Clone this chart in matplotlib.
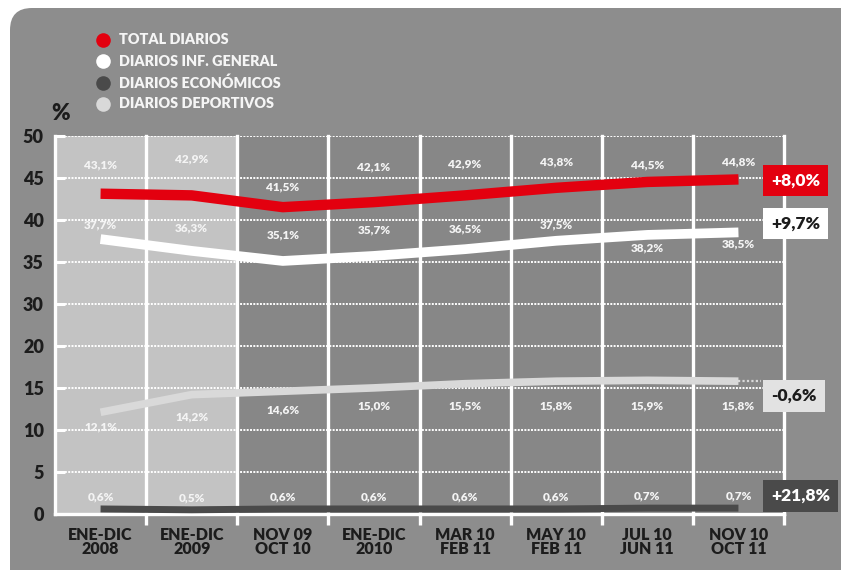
import numpy as np
import matplotlib
matplotlib.use('Agg')
import matplotlib.pyplot as plt
from matplotlib.patches import FancyBboxPatch
from matplotlib.lines import Line2D

plt.rcParams['font.family'] = ['Lato', 'DejaVu Sans']

periods = ["ENE-DIC\n2008", "ENE-DIC\n2009", "NOV 09\nOCT 10", "ENE-DIC\n2010",
           "MAR 10\nFEB 11", "MAY 10\nFEB 11", "JUL 10\nJUN 11", "NOV 10\nOCT 11"]

total_diarios = [43.1, 42.9, 41.5, 42.1, 42.9, 43.8, 44.5, 44.8]
inf_general = [37.7, 36.3, 35.1, 35.7, 36.5, 37.5, 38.2, 38.5]
economicos = [0.6, 0.5, 0.6, 0.6, 0.6, 0.6, 0.7, 0.7]
deportivos = [12.1, 14.2, 14.6, 15.0, 15.5, 15.8, 15.9, 15.8]

variacion = ["+8,0%", "+9,7%", "+21,8%", "-0,6%"]
series_names = ["TOTAL DIARIOS", "DIARIOS INF. GENERAL", "DIARIOS ECONÓMICOS", "DIARIOS DEPORTIVOS"]

y_ticks = [0, 5, 10, 15, 20, 30, 35, 40, 45, 50]

RED = '#e3000f'
WHITE = '#ffffff'
DARK = '#4a4a4a'
LIGHT = '#d9d9d9'
TXT = '#1c1c1c'


# broken axis: 20-30 squeezed into one step, everything above shifted down
def fwd(v):
    v = np.asarray(v, dtype=float)
    return np.where(v <= 20, v, np.where(v <= 30, 20 + (v - 20) / 2, v - 5))


def inv(u):
    u = np.asarray(u, dtype=float)
    return np.where(u <= 20, u, np.where(u <= 25, 20 + (u - 20) * 2, u + 5))


def fmt(v):
    return f"{v:.1f}".replace('.', ',') + '%'


fig = plt.figure(figsize=(8.41, 5.70), dpi=100, facecolor='white')

# rounded grey panel behind everything
panel = FancyBboxPatch((0.10, -0.4), 8.7, 6.02, boxstyle='round,pad=0,rounding_size=0.22',
                       transform=fig.dpi_scale_trans, facecolor='#8d8d8d', edgecolor='none', zorder=-5)
fig.add_artist(panel)

ax = fig.add_axes([55 / 841, 56 / 570, 729 / 841, 378.3 / 570])
ax.set_zorder(1)
ax.set_facecolor('#878787')
ax.set_yscale('function', functions=(fwd, inv))
ax.set_ylim(0, 50)
ax.set_xlim(-0.5, 7.5)

x = np.arange(len(periods))

# lighter background for the two yearly columns
ax.axvspan(-0.5, 1.5, color='#c3c3c3', zorder=0)

for yv in y_ticks[1:]:
    ax.axhline(yv, color='white', lw=1.4, ls=(0, (1.0, 0.7)), zorder=1)
for b in np.arange(0.5, 8, 1):
    ax.axvline(b, color='white', lw=2.4, zorder=2, clip_on=False)

for s in ['top', 'right']:
    ax.spines[s].set_visible(False)
for s in ['left', 'bottom']:
    ax.spines[s].set_color('white')
    ax.spines[s].set_linewidth(2.4)
    ax.spines[s].set_zorder(3)

ax.set_yticks(y_ticks)
ax.set_yticklabels([str(t) for t in y_ticks])
ax.yaxis.set_minor_locator(matplotlib.ticker.NullLocator())
ax.tick_params(axis='y', direction='in', length=7, width=2.2, color='white',
               labelsize=13, labelcolor=TXT, pad=8)
for lab in ax.get_yticklabels():
    lab.set_fontweight('heavy')

ax.set_xticks(x)
ax.set_xticklabels(periods, fontsize=11.5, fontweight='heavy', color=TXT, linespacing=0.9)
ax.set_xticks(np.arange(0.5, 8, 1), minor=True)
ax.tick_params(axis='x', which='major', length=0, pad=9)
ax.tick_params(axis='x', which='minor', direction='out', length=8, width=2.4, color='white')

lw_kw = dict(solid_capstyle='butt', solid_joinstyle='round')
ax.plot(x, economicos, color=DARK, lw=5, zorder=4, **lw_kw)
ax.plot(x, deportivos, color=LIGHT, lw=5.5, zorder=4, **lw_kw)
ax.plot(x, inf_general, color=WHITE, lw=7, zorder=5, **lw_kw)
ax.plot(x, total_diarios, color=RED, lw=7.5, zorder=6, **lw_kw)

# value labels (offsets in pixels, positive = above the line)
red_dy = [29, 36, 20, 35, 31, 26, 17, 17]
white_dy = [14, 23, 26, 26, 20, 16, -13, -12]
dep_dy = [-15, -22, -19, -18, -22, -25, -26, -25]
eco_dy = [12] * 8
for vals, dys in [(total_diarios, red_dy), (inf_general, white_dy),
                  (deportivos, dep_dy), (economicos, eco_dy)]:
    for xi, v, dy in zip(x, vals, dys):
        ax.annotate(fmt(v), (xi, v), xytext=(0, dy), textcoords='offset pixels',
                    ha='center', va='center', fontsize=8.5, fontweight='heavy',
                    color='#f4f4f4', zorder=7)

# change boxes on the right
box_specs = [(total_diarios[-1], variacion[0], RED, 'white', -1),
             (inf_general[-1], variacion[1], WHITE, TXT, 9),
             (economicos[-1], variacion[2], DARK, 'white', 12),
             (deportivos[-1], variacion[3], '#e2e2e2', TXT, -15)]
for v, txt, fc, tc, dy in box_specs:
    ax.annotate(txt, (7.36, v), xytext=(0, dy), textcoords='offset pixels',
                ha='left', va='center', fontsize=12.5, fontweight='heavy', color=tc,
                bbox=dict(boxstyle='square,pad=0.45', fc=fc, ec='none'),
                annotation_clip=False, zorder=10)
ax.plot([7, 7.25], [deportivos[-1], deportivos[-1]], color=LIGHT, lw=1.6,
        ls=(0, (1, 1)), clip_on=False, zorder=4)

# legend
leg_colors = [RED, WHITE, DARK, LIGHT]
for i, (name, c) in enumerate(zip(series_names, leg_colors)):
    yy = 1 - (40 + i * 21.3) / 570
    fig.add_artist(Line2D([103 / 841], [yy], marker='o', ms=10.5, color=c,
                          markeredgecolor='none', transform=fig.transFigure))
    fig.text(119 / 841, yy, name, fontsize=10.4, fontweight='heavy', color='#f5f5f5',
             ha='left', va='center')

fig.text(61 / 841, 1 - 114 / 570, '%', fontsize=16, fontweight='heavy', color=TXT,
         ha='center', va='center')

fig.savefig('out.png', dpi=100, facecolor=fig.get_facecolor())
